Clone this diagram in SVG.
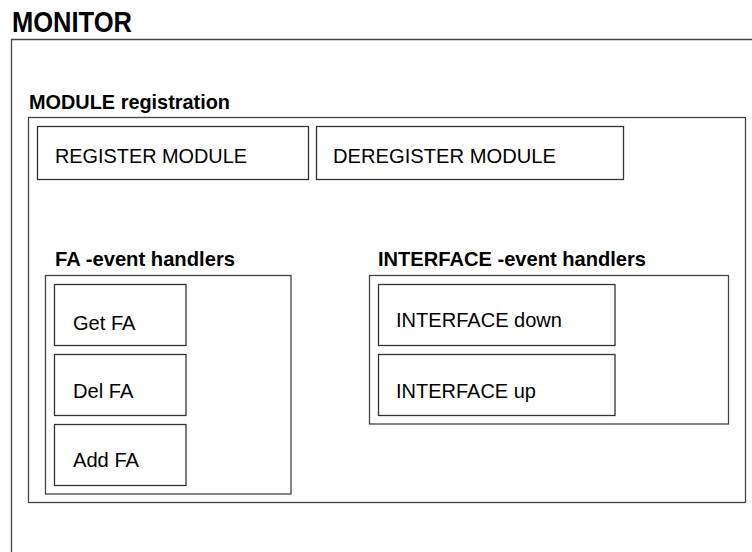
<svg xmlns="http://www.w3.org/2000/svg" width="752" height="552" viewBox="0 0 752 552">
  <style>
    .frame { fill: none; stroke: #444; stroke-width: 1.3; }
    .box { fill: #fff; stroke: #333; stroke-width: 1.3; }
    .title { font-family: "Liberation Sans", Arial, Helvetica, sans-serif; font-weight: bold; fill: #000; }
    .label { font-family: "Liberation Sans", Arial, Helvetica, sans-serif; font-size: 21px; fill: #000; }
  </style>
  <rect width="752" height="552" fill="#fff"/>

  <!-- Outer MONITOR frame (open to the right and bottom) -->
  <g id="monitor">
    <path class="frame" d="M11.5 552 V39.5 H752"/>
    <text class="title" x="12" y="31.5" font-size="29px" textLength="120" lengthAdjust="spacingAndGlyphs">MONITOR</text>
  </g>

  <!-- Module registration container -->
  <g id="module-registration">
    <rect class="frame" x="28.5" y="117.5" width="717" height="385"/>
    <text class="title" x="29" y="108.5" font-size="21px" textLength="201" lengthAdjust="spacingAndGlyphs">MODULE registration</text>
  </g>

  <g id="register-module">
    <rect class="box" x="37.5" y="126.5" width="271" height="53"/>
    <text class="label" x="55" y="162.5" textLength="192" lengthAdjust="spacingAndGlyphs">REGISTER MODULE</text>
  </g>

  <g id="deregister-module">
    <rect class="box" x="316.5" y="126.5" width="307" height="53"/>
    <text class="label" x="333" y="162.5" textLength="223" lengthAdjust="spacingAndGlyphs">DEREGISTER MODULE</text>
  </g>

  <!-- FA event handlers -->
  <g id="fa-handlers">
    <rect class="frame" x="45.5" y="275.5" width="245.5" height="218.5"/>
    <text class="title" x="55" y="266" font-size="21px" textLength="180" lengthAdjust="spacingAndGlyphs">FA -event handlers</text>
  </g>

  <g id="get-fa">
    <rect class="box" x="54.5" y="284.5" width="131.5" height="61"/>
    <text class="label" x="73" y="329.5" textLength="62.5" lengthAdjust="spacingAndGlyphs">Get FA</text>
  </g>

  <g id="del-fa">
    <rect class="box" x="54.5" y="354.5" width="131.5" height="61"/>
    <text class="label" x="73" y="397.5" textLength="60.5" lengthAdjust="spacingAndGlyphs">Del FA</text>
  </g>

  <g id="add-fa">
    <rect class="box" x="54.5" y="424.5" width="131.5" height="61"/>
    <text class="label" x="73" y="467" textLength="66" lengthAdjust="spacingAndGlyphs">Add FA</text>
  </g>

  <!-- INTERFACE event handlers -->
  <g id="interface-handlers">
    <rect class="frame" x="369.5" y="275.5" width="359" height="148.5"/>
    <text class="title" x="378" y="266" font-size="21px" textLength="268" lengthAdjust="spacingAndGlyphs">INTERFACE -event handlers</text>
  </g>

  <g id="interface-down">
    <rect class="box" x="378.5" y="284.5" width="236.5" height="61"/>
    <text class="label" x="396" y="327" textLength="166" lengthAdjust="spacingAndGlyphs">INTERFACE down</text>
  </g>

  <g id="interface-up">
    <rect class="box" x="378.5" y="354.5" width="236.5" height="61"/>
    <text class="label" x="396" y="397.5" textLength="140" lengthAdjust="spacingAndGlyphs">INTERFACE up</text>
  </g>

  <!-- No connectors in this diagram -->
  <g id="connectors"/>
</svg>
